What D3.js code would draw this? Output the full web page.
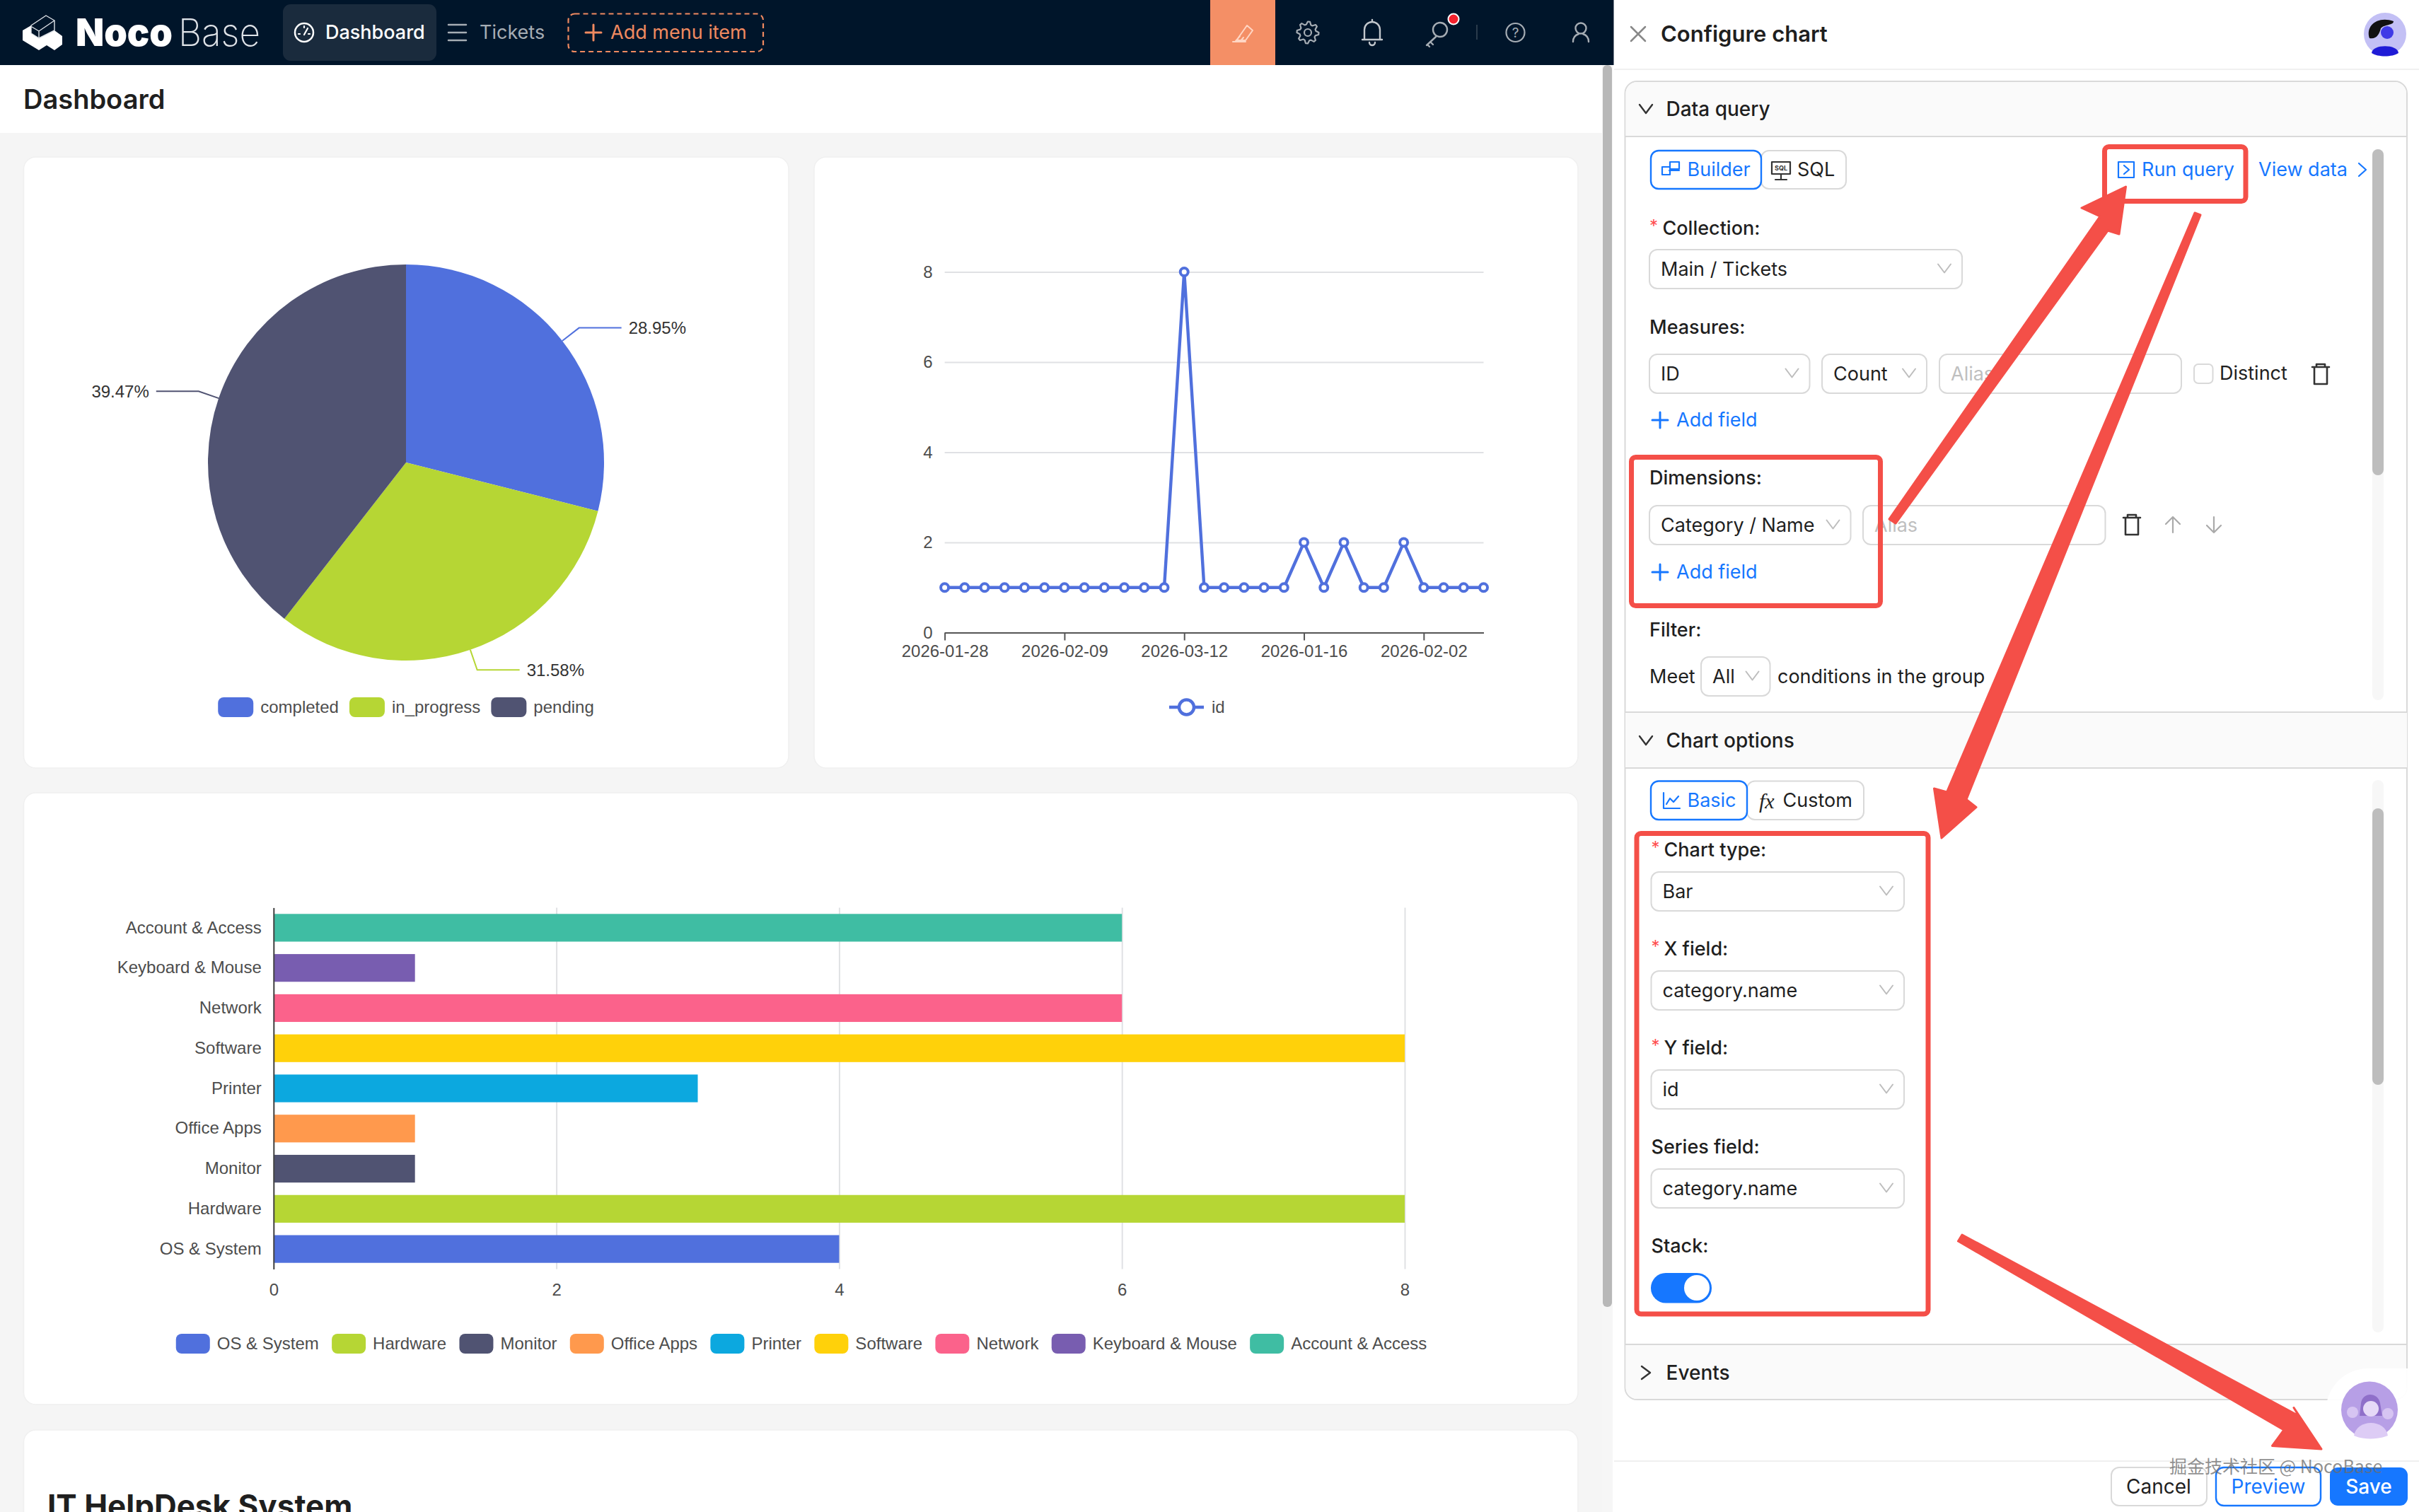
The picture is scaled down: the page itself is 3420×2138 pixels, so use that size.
<!DOCTYPE html>
<html>
<head>
<meta charset="utf-8">
<title>Configure chart</title>
<script src="https://cdn.jsdelivr.net/npm/d3@7/dist/d3.min.js"></script>
<style>
html, body { margin: 0; padding: 0; background: #f5f5f5; overflow: hidden; }
svg { display: block; }
</style>
</head>
<body>
<script>
// chart values
var pieNames = ["completed", "in_progress", "pending"];
var pieValues = [11, 12, 15];

var lineValues = [1, 1, 1, 1, 1, 1, 1, 1, 1, 1, 1, 1, 8, 1, 1, 1, 1, 1, 2, 1, 2, 1, 1, 2, 1, 1, 1, 1];
var lineTickIndexes = [0, 6, 12, 18, 24];
var lineTickLabels = ["2026-01-28", "2026-02-09", "2026-03-12", "2026-01-16", "2026-02-02"];
var lineTicksY = [0, 2, 4, 6, 8];

var barCategories = ["OS & System", "Hardware", "Monitor", "Office Apps", "Printer", "Software", "Network", "Keyboard & Mouse", "Account & Access"];
var barValues = [4, 8, 1, 1, 3, 8, 6, 1, 6];
var barTicks = [0, 2, 4, 6, 8];

var palette = ["#5070dd", "#b6d634", "#505372", "#ff994d", "#0ca8df", "#ffd10a", "#fb628b", "#785db0", "#3fbda3"];

var W = 3420, H = 2138;
var chartFont = "'Liberation Sans', Arial, sans-serif";
var uiFont = "Inter, 'Noto Sans', sans-serif";
var RED = "#f44f48", BLUE = "#1677ff", INK = "#1f1f1f", LINE = "#d9d9d9", GRID = "#e0e1e4";

var svg = d3.select("body").append("svg")
    .attr("width", W)
    .attr("height", H)
    .attr("viewBox", [0, 0, W, H]);

function rect(x0, y0, x1, y1, fill, r, stroke, sw) {
    return svg.append("rect")
        .attr("x", x0).attr("y", y0)
        .attr("width", x1 - x0).attr("height", y1 - y0)
        .attr("rx", r || 0)
        .attr("fill", fill || "none")
        .attr("stroke", stroke || "none")
        .attr("stroke-width", sw || 0);
}

function text(x, y, str, o) {
    o = o || {};
    return svg.append("text")
        .attr("x", x).attr("y", y).attr("dy", "0.35em")
        .attr("font-family", o.font || uiFont)
        .attr("font-size", o.size || 27)
        .attr("font-weight", o.weight || 400)
        .attr("fill", o.fill || INK)
        .attr("text-anchor", o.anchor || "start")
        .text(str);
}

// small outline icon, d is written around 0,0
function icon(x, y, d, color, sw) {
    return svg.append("path")
        .attr("transform", "translate(" + x + "," + y + ")")
        .attr("d", d)
        .attr("fill", "none")
        .attr("stroke", color)
        .attr("stroke-width", sw || 2.5)
        .attr("stroke-linecap", "round")
        .attr("stroke-linejoin", "round");
}

var CHEVRON = "M-9,-6L0,6L9,-6";
var PLUS = "M-11,0H11M0,-11V11";
var TRASH = "M-12,-10H12M-6,-10V-14H6V-10M-9,-10V14H9V-10";

function select(x0, y0, x1, y1, str, chevX) {
    rect(x0, y0, x1, y1, "#fff", 11, LINE, 2);
    text(x0 + 16, (y0 + y1) / 2, str);
    icon(chevX || x1 - 25, (y0 + y1) / 2 - 1, CHEVRON, "#bdbdbd", 2);
}

function addField(y) {
    icon(2347, y, PLUS, BLUE, 3);
    text(2370, y, "Add field", { fill: BLUE });
}

// ---- page background
rect(0, 0, W, H, "#f5f5f5");
rect(0, 92, 2265, 188, "#fff");

// ---- top bar
rect(0, 0, 2280, 92, "#00152a");
svg.append("path")
    .attr("d", "M32,43L44,36V47L55,54L77,43L88,51V63L77,71L66,64L55,71L32,57Z")
    .attr("fill", "#fff");
icon(0, 0, "M44,36L65,22L77,29V43L55,54L44,47ZM45,38L55,44L77,29M55,44V54", "#dfe3e8", 1.4);
text(107, 46, "Noco", { size: 54, weight: 900, fill: "#fff" })
    .attr("textLength", 137).attr("lengthAdjust", "spacingAndGlyphs");
text(252, 46, "Base", { size: 54, weight: 200, fill: "#dfe3e8" })
    .attr("textLength", 116).attr("lengthAdjust", "spacingAndGlyphs");

rect(400, 6, 617, 86, "#1a2b3d", 11);
svg.append("circle").attr("cx", 430).attr("cy", 46).attr("r", 13).attr("fill", "none").attr("stroke", "#fff").attr("stroke-width", 2.5);
icon(430, 46, "M0,3L5,-6M-8,2H-6M8,2H6M0,-9V-7", "#fff", 2.2);
text(460, 46, "Dashboard", { weight: 500, fill: "#fff" });
icon(634, 46, "M0,-11H25M0,0H25M0,11H25", "#a6adb4", 2.5);
text(678, 46, "Tickets", { fill: "#a6adb4" });
rect(803.5, 19.5, 1079, 73, "none", 9, "#f08a60", 2.2).attr("stroke-dasharray", "7 5");
icon(839, 46, PLUS, "#f08a60", 3);
text(863, 46, "Add menu item", { fill: "#f08a60" });

rect(1711, 0, 1803, 92, "#f48f66");
icon(1757, 47, "M-14,12H4M-6,6L6,-11L14,-4L4,10H-8ZM-10,11L-4,4M-4,12L1,6", "#ffd6c4", 2);
var gearPoints = d3.range(32).map(function(i) {
    var r = (i % 4 === 0 || i % 4 === 1) ? 15.5 : 11.5;
    return [i / 32 * 2 * Math.PI, r];
});
icon(1849, 46, d3.lineRadial().curve(d3.curveLinearClosed)(gearPoints), "#a6adb4", 2.2);
svg.append("circle").attr("cx", 1849).attr("cy", 46).attr("r", 5).attr("fill", "none").attr("stroke", "#a6adb4").attr("stroke-width", 2.2);
icon(1940, 46, "M-11,10V-4A11,11 0 0 1 11,-4V10M-14,10H14M-4,14A4,4 0 0 0 4,14M0,-15V-18", "#c2c7cc", 2.4);
svg.append("circle").attr("cx", 2036).attr("cy", 42).attr("r", 10).attr("fill", "none").attr("stroke", "#a6adb4").attr("stroke-width", 2.4);
icon(2033, 46, "M-3,6L-16,18M-11,13L-7,17M-15,17L-12,20", "#a6adb4", 2.4);
svg.append("circle").attr("cx", 2055).attr("cy", 27).attr("r", 7.5).attr("fill", "#f5222d").attr("stroke", "#fff").attr("stroke-width", 2);
rect(2087, 35, 2089, 56, "#2a3b4c");
svg.append("circle").attr("cx", 2142.5).attr("cy", 46).attr("r", 13).attr("fill", "none").attr("stroke", "#a6adb4").attr("stroke-width", 2.2);
text(2142.5, 46, "?", { size: 19, fill: "#a6adb4", anchor: "middle" });
svg.append("circle").attr("cx", 2235).attr("cy", 40).attr("r", 7.5).attr("fill", "none").attr("stroke", "#a6adb4").attr("stroke-width", 2.4);
icon(2235, 46, "M-11,13C-11,6 -6,3 -3,2M11,13C11,6 6,3 3,2", "#a6adb4", 2.4);

text(33, 141, "Dashboard", { size: 38, weight: 600 });

// ---- cards
rect(33.5, 222, 1115, 1086, "#fff", 17, "#f0f0f0", 1.5);
rect(1151, 222, 2231, 1086, "#fff", 17, "#f0f0f0", 1.5);
rect(33.5, 1121, 2231, 1986, "#fff", 17, "#f0f0f0", 1.5);
rect(33.5, 2022, 2231, 2160, "#fff", 17, "#f0f0f0", 1.5);
text(67, 2130, "IT HelpDesk System", { size: 44, weight: 700 });

// page scrollbar
rect(2265, 92, 2280, H, "#f6f6f6");
rect(2266, 92, 2279, 1848, "#b8b8b8", 6);

function legendRow(y, names, colors, swatchW, gap, centerX) {
    var g = svg.append("g");
    var items = g.selectAll("g").data(names).join("g");
    items.append("rect")
        .attr("y", y - 14)
        .attr("width", swatchW)
        .attr("height", 28)
        .attr("rx", 8)
        .attr("fill", function(d, i) { return colors[i]; });
    items.append("text")
        .attr("x", swatchW + 10)
        .attr("y", y)
        .attr("dy", "0.35em")
        .attr("font-family", chartFont)
        .attr("font-size", 24)
        .attr("fill", "#4d4d4d")
        .text(function(d) { return d; });
    var widths = [];
    items.select("text").each(function() { widths.push(this.getComputedTextLength() + swatchW + 10); });
    var x = centerX - (d3.sum(widths) + gap * (names.length - 1)) / 2;
    items.attr("transform", function(d, i) {
        var here = x;
        x += widths[i] + gap;
        return "translate(" + here + ",0)";
    });
}

// ---- pie
var pieCx = 574, pieCy = 654, pieR = 280;
var pieG = svg.append("g").attr("transform", "translate(" + pieCx + "," + pieCy + ")");
var pieArcs = d3.pie().sort(null)(pieValues);
var arc = d3.arc().innerRadius(0).outerRadius(pieR);
var pieTotal = d3.sum(pieValues);

pieG.selectAll("path.slice").data(pieArcs).join("path")
    .attr("class", "slice")
    .attr("d", arc)
    .attr("fill", function(d, i) { return palette[i]; });

function rimPoint(d, r) {
    return d3.arc().innerRadius(r).outerRadius(r).centroid(d);
}

pieArcs.forEach(function(d, i) {
    var a = rimPoint(d, pieR);
    var b = rimPoint(d, pieR + 30);
    var side = b[0] >= 0 ? 1 : -1;
    var c = [b[0] + side * 60, b[1]];
    pieG.append("path")
        .attr("d", d3.line()([a, b, c]))
        .attr("fill", "none")
        .attr("stroke", palette[i])
        .attr("stroke-width", 2);
    pieG.append("text")
        .attr("x", c[0] + side * 10)
        .attr("y", c[1])
        .attr("dy", "0.35em")
        .attr("text-anchor", side > 0 ? "start" : "end")
        .attr("font-family", chartFont)
        .attr("font-size", 24)
        .attr("fill", "#333")
        .text(d3.format(".2f")(d.value / pieTotal * 100) + "%");
});

legendRow(1000, pieNames, palette, 50, 15, 574);

// ---- line
var lineX = d3.scalePoint().domain(d3.range(lineValues.length)).range([1335.6, 2097.5]);
var lineY = d3.scaleLinear().domain([0, 8]).range([894.5, 384.5]);

var lineYAxis = svg.append("g")
    .attr("transform", "translate(1335.6,0)")
    .call(d3.axisLeft(lineY).tickValues(lineTicksY).tickSize(-(2097.5 - 1335.6)).tickPadding(17));
lineYAxis.select(".domain").remove();
lineYAxis.selectAll("line").attr("stroke", GRID).attr("stroke-width", 2);
lineYAxis.selectAll("text").attr("font-family", chartFont).attr("font-size", 24).attr("fill", "#4d4d4d");

var lineXAxis = svg.append("g")
    .attr("transform", "translate(0,894.5)")
    .call(d3.axisBottom(lineX)
        .tickValues(lineTickIndexes)
        .tickFormat(function(d, i) { return lineTickLabels[i]; })
        .tickSize(11).tickSizeOuter(0).tickPadding(6));
lineXAxis.selectAll(".domain, line").attr("stroke", "#555").attr("stroke-width", 2);
lineXAxis.selectAll("text").attr("font-family", chartFont).attr("font-size", 24).attr("fill", "#4d4d4d");

svg.append("path")
    .attr("d", d3.line()
        .x(function(d, i) { return lineX(i); })
        .y(function(d) { return lineY(d); })(lineValues))
    .attr("fill", "none")
    .attr("stroke", palette[0])
    .attr("stroke-width", 4.4);
svg.append("g").selectAll("circle").data(lineValues).join("circle")
    .attr("cx", function(d, i) { return lineX(i); })
    .attr("cy", function(d) { return lineY(d); })
    .attr("r", 5.5)
    .attr("fill", "#fff")
    .attr("stroke", palette[0])
    .attr("stroke-width", 4);

// line legend
svg.append("line").attr("x1", 1653).attr("x2", 1702).attr("y1", 1000).attr("y2", 1000)
    .attr("stroke", palette[0]).attr("stroke-width", 4.4);
svg.append("circle").attr("cx", 1677.5).attr("cy", 1000).attr("r", 10.5)
    .attr("fill", "#fff").attr("stroke", palette[0]).attr("stroke-width", 4.4);
text(1713, 1000, "id", { font: chartFont, size: 24, fill: "#4d4d4d" });

// ---- bars
var barX = d3.scaleLinear().domain([0, 8]).range([386.8, 1986]);
var barY = d3.scaleBand().domain(barCategories).range([1794.5, 1283.5]).paddingInner(0.31).paddingOuter(0.155);

var barXAxis = svg.append("g")
    .attr("transform", "translate(0,1794.5)")
    .call(d3.axisBottom(barX).tickValues(barTicks).tickSize(-511).tickPadding(20));
barXAxis.select(".domain").remove();
barXAxis.selectAll("line").attr("stroke", GRID).attr("stroke-width", 2);
barXAxis.selectAll("text").attr("font-family", chartFont).attr("font-size", 24).attr("fill", "#4d4d4d");

svg.append("g").selectAll("rect").data(barValues).join("rect")
    .attr("x", barX(0))
    .attr("y", function(d, i) { return barY(barCategories[i]); })
    .attr("width", function(d) { return barX(d) - barX(0); })
    .attr("height", barY.bandwidth())
    .attr("fill", function(d, i) { return palette[i]; });

var barYAxis = svg.append("g")
    .attr("transform", "translate(386.8,0)")
    .call(d3.axisLeft(barY).tickSize(0).tickPadding(17));
barYAxis.select(".domain").attr("stroke", "#444").attr("stroke-width", 2);
barYAxis.selectAll("text").attr("font-family", chartFont).attr("font-size", 24).attr("fill", "#4d4d4d");

legendRow(1900, barCategories, palette, 48, 18.3, 1133);

// ---- configure panel
rect(2280, 0, W, H, "#fff");
rect(2280, 0, 2281.5, 92, "#00152a");
rect(2282, 97, W, 99, "#f0f0f0");
icon(2316, 48, "M-10,-10L10,10M10,-10L-10,10", "#888", 2.5);
text(2348, 48, "Configure chart", { size: 31, weight: 600 });

// avatar
svg.append("circle").attr("cx", 3372).attr("cy", 48).attr("r", 30).attr("fill", "#c3c0f5");
svg.append("path").attr("d", "M3353,75C3354,62 3390,62 3391,75C3382,81 3362,81 3353,75Z").attr("fill", "#1f1bd6");
svg.append("circle").attr("cx", 3375).attr("cy", 46).attr("r", 9).attr("fill", "#3f3ae6");
svg.append("path").attr("d", "M3350,54C3344,36 3362,22 3384,30C3384,36 3372,34 3366,40C3364,48 3360,56 3350,54Z").attr("fill", "#111");

// section frame
rect(2297.5, 115, 3403, 1979, "#fff", 17, LINE, 2);
svg.append("path").attr("d", "M2298.5,193V132A16,16 0 0 1 2314,116H3386A16,16 0 0 1 3402,132V193Z").attr("fill", "#fafafa");
rect(2298, 192, 3403, 194, LINE);
rect(2298, 1007, 3403, 1086, "#fafafa");
rect(2298, 1006, 3403, 1008, LINE);
rect(2298, 1085, 3403, 1087, LINE);
svg.append("path").attr("d", "M2298.5,1901H3402V1962A16,16 0 0 1 3386,1978H2314A16,16 0 0 1 2298.5,1962Z").attr("fill", "#fafafa");
rect(2298, 1900, 3403, 1902, LINE);

icon(2327, 154, CHEVRON, "#333", 2.4);
text(2355.5, 154, "Data query", { size: 28, weight: 500 });
icon(2327, 1047, CHEVRON, "#333", 2.4);
text(2355.5, 1047, "Chart options", { size: 28, weight: 500 });
icon(2327, 1941, "M-6,-9L6,0L-6,9", "#333", 2.4);
text(2355.5, 1941, "Events", { size: 28, weight: 500 });

// scroll tracks
rect(3354, 211, 3370, 990, "#f7f7f7", 8);
rect(3354, 211, 3370, 672, "#bdbdbd", 8);
rect(3354, 1103, 3370, 1884, "#f7f7f7", 8);
rect(3354, 1143, 3370, 1534, "#bdbdbd", 8);

// data query form
rect(2490, 213, 2610, 267, "#fff", 11, LINE, 2);
rect(2334, 213, 2490, 267, "#fff", 11, BLUE, 2.4);
icon(2361, 240, "M-11,7H0V-4H-11ZM0,-1V-11H13V-1ZM-1,1H13", BLUE, 2.2);
text(2385.5, 240, "Builder", { fill: BLUE });
icon(2518, 240, "M-13,-11H13V6H-13ZM0,6V14M-8,14H8", "#333", 2.2);
text(2518, 238, "SQL", { size: 9, weight: 700, fill: "#333", anchor: "middle" });
text(2541, 240, "SQL");

icon(3006, 240, "M-11,-11H11V11H-11ZM-3,-6L4,0L-3,6", BLUE, 2.2);
text(3028, 240, "Run query", { fill: BLUE });
text(3193, 240, "View data", { fill: BLUE });
icon(3340, 240, "M-5,-9L5,0L-5,9", BLUE, 2.2);

text(2332, 320, "*", { size: 24, fill: "#ff4d4f" });
text(2350.5, 322.5, "Collection:", { weight: 500 });
select(2332, 353, 2774, 408, "Main / Tickets");
text(2332, 462.5, "Measures:", { weight: 500 });
select(2332, 501, 2558.5, 556, "ID");
select(2576, 501, 2724, 556, "Count");
rect(2742, 501, 3084, 556, "#fff", 11, LINE, 2);
text(2758, 528.5, "Alias", { fill: "#bfbfbf" });
rect(3102, 515, 3128.5, 542, "#fff", 6, LINE, 2);
text(3138, 528, "Distinct");
icon(3281, 529, TRASH, "#333", 2.6);
addField(594);

text(2332, 676, "Dimensions:", { weight: 500 });
select(2332, 715, 2616.5, 770, "Category / Name");
rect(2634, 715, 2976.5, 770, "#fff", 11, LINE, 2);
text(2650, 742.5, "Alias", { fill: "#bfbfbf" });
icon(3014, 742, TRASH, "#333", 2.6);
icon(3072, 742, "M0,11V-11M-10,-1L0,-11L10,-1", "#aaa", 2.2);
icon(3130, 742, "M0,-11V11M-10,1L0,11L10,1", "#aaa", 2.2);
addField(809);

text(2332, 890.5, "Filter:", { weight: 500 });
text(2332, 957, "Meet");
select(2405, 929, 2502.5, 984, "All", 2477.5);
text(2513, 957, "conditions in the group");

// chart options form
rect(2470, 1104.5, 2635, 1159, "#fff", 11, LINE, 2);
rect(2334, 1104.5, 2470, 1159, "#fff", 11, BLUE, 2.4);
icon(2363, 1132, "M-11,-11V11H12M-7,5L-2,-3L3,2L10,-6", BLUE, 2.2);
text(2385.5, 1132, "Basic", { fill: BLUE });
text(2487, 1132, "fx", { font: "'Liberation Serif', serif", size: 30, fill: "#222" }).attr("font-style", "italic");
text(2520.5, 1132, "Custom");

var optionForm = [
    { label: "Chart type:", req: true, labelY: 1202, y0: 1233, value: "Bar" },
    { label: "X field:", req: true, labelY: 1342, y0: 1373, value: "category.name" },
    { label: "Y field:", req: true, labelY: 1482, y0: 1513, value: "id" },
    { label: "Series field:", req: false, labelY: 1622, y0: 1653, value: "category.name" }
];
optionForm.forEach(function(f) {
    if (f.req) text(2334.5, f.labelY - 3, "*", { size: 24, fill: "#ff4d4f" });
    text(f.req ? 2352.5 : 2334.5, f.labelY, f.label, { weight: 500 });
    select(2334.5, f.y0, 2692, f.y0 + 55, f.value);
});
text(2334.5, 1762, "Stack:", { weight: 500 });
rect(2334, 1800, 2420, 1842.5, BLUE, 21);
svg.append("circle").attr("cx", 2399).attr("cy", 1821).attr("r", 18).attr("fill", "#fff");

// footer
rect(2282, 2065, W, 2067, "#f0f0f0");
rect(2985, 2075, 3120, 2129, "#fff", 11, LINE, 2);
text(3052, 2102, "Cancel", { size: 28, anchor: "middle" });
rect(3133, 2075, 3281, 2129, "#fff", 11, BLUE, 2.4);
text(3207, 2102, "Preview", { size: 28, fill: BLUE, anchor: "middle" });
rect(3294, 2075, 3404, 2129, BLUE, 11);
text(3349, 2102, "Save", { size: 28, weight: 500, fill: "#fff", anchor: "middle" });

// helper widget
svg.append("path").attr("d", "M3420,1935H3348A59,59 0 0 0 3348,2054H3420Z").attr("fill", "#fff").attr("opacity", 0.95);
svg.append("circle").attr("cx", 3350).attr("cy", 1993.5).attr("r", 40).attr("fill", "#b79fe6");
svg.append("path").attr("d", "M3338,1984C3340,1968 3362,1968 3365,1984L3368,2002H3336Z").attr("fill", "#8f6fc9");
svg.append("circle").attr("cx", 3352).attr("cy", 1992).attr("r", 11).attr("fill", "#e6d9f7");
svg.append("path").attr("d", "M3328,2030C3332,2006 3372,2006 3376,2030C3362,2036 3340,2036 3328,2030Z").attr("fill", "#ddccf5");
svg.append("circle").attr("cx", 3326).attr("cy", 1997).attr("r", 8).attr("fill", "#d6c4f2");
svg.append("circle").attr("cx", 3376).attr("cy", 1999).attr("r", 8).attr("fill", "#d6c4f2");

// ---- red call-outs over everything
function callout(points) {
    svg.append("polygon")
        .attr("points", points.join(" "))
        .attr("fill", RED)
        .attr("stroke", RED)
        .attr("stroke-width", 3)
        .attr("stroke-linejoin", "round");
}
rect(2975.5, 207.5, 3175, 284.5, "none", 6, RED, 7);
rect(2306.5, 646.5, 2658.5, 856.5, "none", 6, RED, 7);
rect(2314, 1178.5, 2726, 1858, "none", 6, RED, 7);
callout([[2671, 734], [2680, 740], [2980, 326], [2996, 331], [3005.5, 264], [2943, 294], [2969, 306]]);
callout([[3103, 301], [3111, 304], [2780, 1130.5], [2794, 1141.5], [2745, 1185], [2734.5, 1115], [2752.5, 1120]]);
callout([[2768.5, 1755], [2774, 1746], [3250, 2002], [3243, 1990.5], [3282, 2049], [3212.5, 2044.5], [3229, 2022]]);

// watermark
text(3067, 2074, "掘金技术社区 @ NocoBase", { font: "'Noto Sans CJK SC', sans-serif", size: 25, fill: "#6b6b6b" })
    .attr("fill-opacity", 0.75);
</script>
</body>
</html>
